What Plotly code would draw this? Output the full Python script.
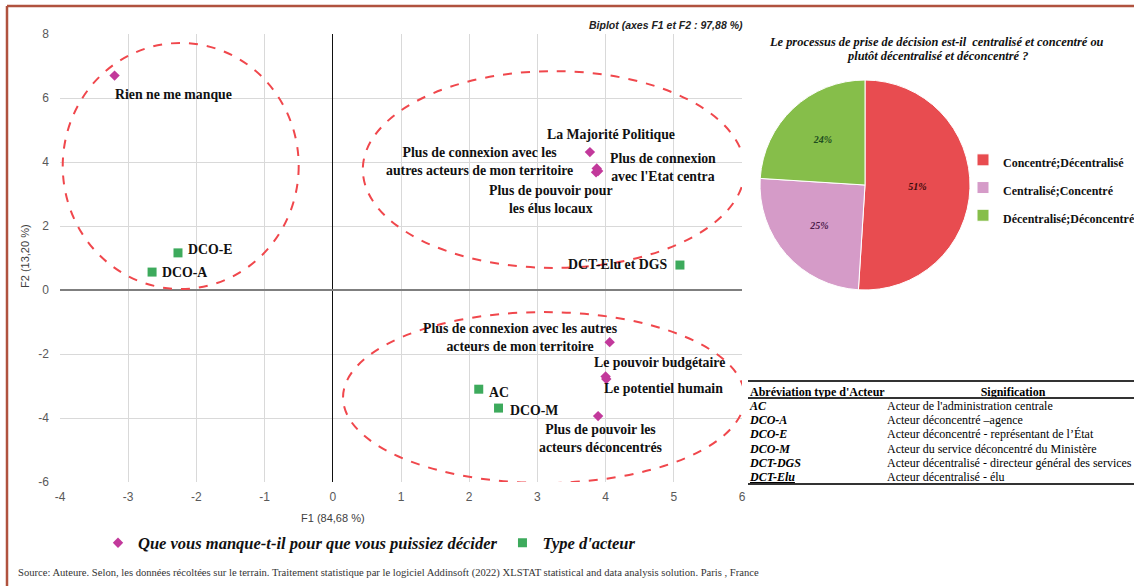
import plotly.graph_objects as go

W, H = 1134, 586

# ---------------- data ----------------
need_labels = [
    "Rien ne me manque",
    "La Majorité Politique",
    "Plus de connexion avec les<br>autres acteurs de mon territoire",
    "Plus de connexion<br>avec l'Etat centra",
    "Plus de pouvoir pour<br>les élus locaux",
    "Plus de connexion avec les autres<br>acteurs de mon territoire",
    "Le pouvoir budgétaire",
    "Le potentiel humain",
    "Plus de pouvoir les<br>acteurs déconcentrés",
]
need_f1 = [-3.20, 3.77, 3.87, 3.89, 3.86, 4.06, 4.00, 4.01, 3.89]
need_f2 = [6.70, 4.31, 3.80, 3.72, 3.68, -1.63, -2.70, -2.78, -3.94]

actor_labels = ["AC", "DCO-M", "DCO-E", "DCO-A", "DCT-Elu et DGS"]
actor_f1 = [2.14, 2.43, -2.27, -2.65, 5.09]
actor_f2 = [-3.10, -3.69, 1.16, 0.56, 0.78]

x_ticks = [-4, -3, -2, -1, 0, 1, 2, 3, 4, 5, 6]
y_ticks = [-6, -4, -2, 0, 2, 4, 6, 8]

pie_labels = ["Concentré;Décentralisé", "Centralisé;Concentré", "Décentralisé;Déconcentré"]
pie_values = [51, 25, 24]

table_header = ["Abréviation type d'Acteur", "Signification"]
table_abbr = ["AC", "DCO-A", "DCO-E", "DCO-M", "DCT-DGS", "DCT-Elu"]
table_meaning = [
    "Acteur de l'administration centrale",
    "Acteur déconcentré –agence",
    "Acteur déconcentré - représentant de l’État",
    "Acteur du service déconcentré du Ministère",
    "Acteur décentralisé - directeur général des services",
    "Acteur décentralisé - élu",
]

# ---------------- layout helpers (positions / styles) ----------------
need_shift = [(59, -19), (21, 18), (-117, 7), (65, 3), (-45, -27),
              (-89, 5), (54, 14), (57, -10), (3, -22)]
actor_shift = [(20, -3), (35, -2), (32, 3), (32, 0), (-62, 1)]
ellipses = [(-3.96, 0.03, -0.50, 7.72), (0.44, 0.69, 6.04, 6.84), (0.15, -6.03, 6.04, -0.69)]

SERIF = "Liberation Serif"
SANS = "Liberation Sans"
PINK = "#C2399B"
GREEN = "#3DAA5C"

fig = go.Figure()

fig.add_trace(go.Scatter(
    x=need_f1, y=need_f2, mode="markers",
    name="Que vous manque-t-il pour que vous puissiez décider",
    marker=dict(symbol="diamond", size=8, color=PINK),
    legend="legend", hoverinfo="x+y",
))
fig.add_trace(go.Scatter(
    x=actor_f1, y=actor_f2, mode="markers",
    name="Type d'acteur",
    marker=dict(symbol="square", size=9, color=GREEN),
    legend="legend", hoverinfo="x+y",
))

fig.add_trace(go.Pie(
    labels=['<span style="font-size:12px">%s</span>' % l for l in pie_labels],
    values=pie_values, sort=False, direction="clockwise", rotation=0,
    domain=dict(x=[752 / W, 978 / W], y=[1 - 290 / H, 1 - 80 / H]),
    marker=dict(colors=["#E84C50", "#D59BC8", "#86BE4A"], line=dict(color="white", width=1)),
    texttemplate="<b><i>%{percent:.0%}</i></b>", textposition="inside",
    insidetextorientation="horizontal",
    textfont=dict(family=SERIF, size=10, color=["#3A0A0A", "#4B1A4B", "#1F4D1F"]),
    legend="legend2", hoverinfo="percent",
))

# ---- table drawn as text on its own hidden axes ----
rows_y = list(range(len(table_abbr) + 1))
col1_text = ["<b>%s</b>" % table_header[0]] + [
    ("<u><b><i>%s</i></b></u>" if a == "DCT-Elu" else "<b><i>%s</i></b>") % a for a in table_abbr]
col2_text = table_meaning
TFONT = dict(family=SERIF, size=12, color="black")
fig.add_trace(go.Scatter(
    x=[2] * len(col1_text), y=rows_y, mode="text", text=col1_text,
    textposition="middle right", textfont=TFONT,
    xaxis="x2", yaxis="y2", showlegend=False, hoverinfo="skip",
))
fig.add_trace(go.Scatter(
    x=[139] * len(col2_text), y=rows_y[1:], mode="text", text=col2_text,
    textposition="middle right", textfont=TFONT,
    xaxis="x2", yaxis="y2", showlegend=False, hoverinfo="skip",
))
fig.add_trace(go.Scatter(
    x=[265], y=[0], mode="text", text=["<b>%s</b>" % table_header[1]],
    textposition="middle center", textfont=TFONT,
    xaxis="x2", yaxis="y2", showlegend=False, hoverinfo="skip",
))

shapes = []
for (x0, y0, x1, y1) in ellipses:
    shapes.append(dict(type="circle", xref="x", yref="y", x0=x0, y0=y0, x1=x1, y1=y1,
                       line=dict(color="#F0474C", width=2, dash="dash"), layer="above"))
# table rules
for yy in [381, 398, 484]:
    shapes.append(dict(type="line", xref="paper", yref="paper", x0=748 / W, x1=1.0,
                       y0=1 - yy / H, y1=1 - yy / H, line=dict(color="#333333", width=2)))
# frame
shapes.append(dict(type="line", xref="paper", yref="paper", x0=7 / W, x1=1.0,
                   y0=1 - 6 / H, y1=1 - 6 / H, line=dict(color="#B0523E", width=2.5)))
shapes.append(dict(type="line", xref="paper", yref="paper", x0=7 / W, x1=7 / W,
                   y0=0, y1=1 - 6 / H, line=dict(color="#B0523E", width=2.5)))

annotations = []
lab_font = dict(family=SERIF, size=13.8, color="#111111", weight="bold")
for lab, x, y, (dx, dy) in zip(need_labels, need_f1, need_f2, need_shift):
    annotations.append(dict(x=x, y=y, xref="x", yref="y", text=lab, showarrow=False,
                            xshift=dx, yshift=dy, font=lab_font, align="center"))
for lab, x, y, (dx, dy) in zip(actor_labels, actor_f1, actor_f2, actor_shift):
    annotations.append(dict(x=x, y=y, xref="x", yref="y", text=lab, showarrow=False,
                            xshift=dx, yshift=dy, font=lab_font, align="center"))

PIE_TITLE_FONT = dict(family=SERIF, size=12.4, color="#111111")
annotations += [
    dict(x=745 / W, y=1 - 25 / H, xref="paper", yref="paper", xanchor="right", yanchor="middle",
         text="<b><i>Biplot (axes F1 et F2 : 97,88 %)</i></b>", showarrow=False,
         font=dict(family=SANS, size=10.5, color="#222222")),
    dict(x=936 / W, y=1 - 42 / H, xref="paper", yref="paper", xanchor="center", yanchor="middle",
         text="<b><i>Le processus de prise de décision est-il  centralisé et concentré ou</i></b>",
         showarrow=False, font=PIE_TITLE_FONT),
    dict(x=937 / W, y=1 - 56 / H, xref="paper", yref="paper", xanchor="center", yanchor="middle",
         text="<b><i>plutôt décentralisé et déconcentré ?</i></b>",
         showarrow=False, font=PIE_TITLE_FONT),
    dict(x=333 / W, y=1 - 518 / H, xref="paper", yref="paper", xanchor="center", yanchor="middle",
         text="F1 (84,68 %)", showarrow=False, font=dict(family=SANS, size=11, color="#404040")),
    dict(x=25 / W, y=1 - 256 / H, xref="paper", yref="paper", xanchor="center", yanchor="middle",
         text="F2 (13,20 %)", textangle=-90, showarrow=False,
         font=dict(family=SANS, size=11, color="#404040")),
    dict(x=16 / W, y=1 - 573 / H, xref="paper", yref="paper", xanchor="left", yanchor="middle",
         text="Source: Auteure. Selon, les données récoltées sur le terrain. Traitement statistique par le logiciel Addinsoft (2022) XLSTAT statistical and data analysis solution. Paris , France",
         showarrow=False, font=dict(family=SERIF, size=10.6, color="#333333")),
]

fig.update_layout(
    width=W, height=H,
    margin=dict(l=0, r=0, t=0, b=0, autoexpand=False),
    paper_bgcolor="white", plot_bgcolor="white",
    xaxis=dict(domain=[60 / W, 742 / W], range=[-4, 6], tickvals=x_ticks,
               ticktext=[str(v) for v in x_ticks], showgrid=True,
               gridcolor="#D9D9D9", gridwidth=1, zeroline=True, zerolinecolor="#111111",
               zerolinewidth=1, showline=False, automargin=False, ticks="",
               tickfont=dict(family=SANS, size=12, color="#595959"), ticklabelstandoff=6),
    yaxis=dict(domain=[1 - 482 / H, 1 - 34 / H], range=[-6, 8], tickvals=y_ticks,
               ticktext=[str(v) for v in y_ticks], showgrid=True,
               gridcolor="#D9D9D9", gridwidth=1, zeroline=True, zerolinecolor="#7F7F7F",
               zerolinewidth=2, showline=False, automargin=False, ticks="",
               tickfont=dict(family=SANS, size=12, color="#595959"), ticklabelstandoff=10),
    xaxis2=dict(domain=[748 / W, 1.0], range=[0, 386], visible=False, fixedrange=True,
                automargin=False),
    yaxis2=dict(domain=[1 - 486 / H, 1 - 381 / H], range=[6.563, -0.831], visible=False,
                fixedrange=True, automargin=False),
    legend=dict(orientation="h", x=98 / W, y=1 - 543 / H, xanchor="left", yanchor="middle",
                font=dict(family=SERIF, size=16.5, color="#111111", weight="bold", style="italic"),
                bgcolor="rgba(0,0,0,0)"),
    legend2=dict(orientation="v", x=963 / W, y=1 - 141 / H, xanchor="left", yanchor="top",
                 font=dict(family=SERIF, size=19, color="#111111", weight="bold"),
                 bgcolor="rgba(0,0,0,0)"),
    shapes=shapes,
    annotations=annotations,
    showlegend=True,
)

fig.write_html("out.html", config={"displayModeBar": False},
               post_script="document.body.style.margin='0px';")
